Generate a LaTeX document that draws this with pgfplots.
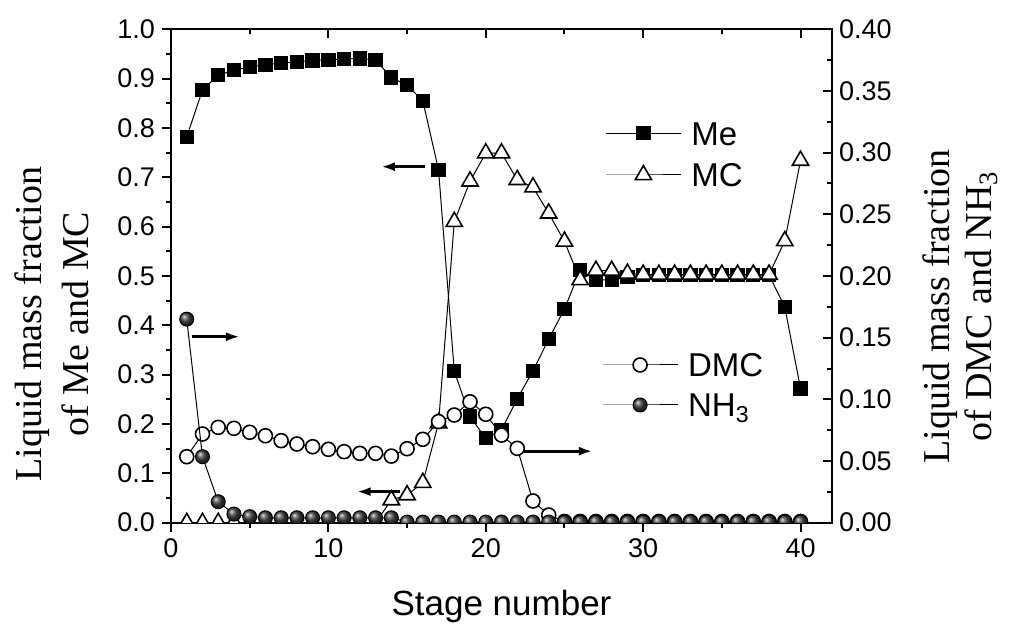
\documentclass[border=0pt]{standalone}
\usepackage{pgfplots}
\pgfplotsset{compat=1.18}
\usepackage{pgfplotstable}
\usepackage{fontspec}
\setmainfont{Liberation Sans}
\newfontfamily\timesfont{Liberation Serif}
\usetikzlibrary{arrows.meta}

\pgfplotstableread{
x me mc
1 0.782 0
2 0.877 0
3 0.907 0
4 0.917 0
5 0.924 0
6 0.928 0
7 0.932 0
8 0.934 0
9 0.937 0
10 0.938 0
11 0.940 0
12 0.941 0
13 0.938 0
14 0.902 0.046
15 0.887 0.056
16 0.855 0.081
17 0.715 0.202
18 0.307 0.610
19 0.215 0.692
20 0.171 0.749
21 0.188 0.749
22 0.251 0.695
23 0.308 0.680
24 0.372 0.627
25 0.433 0.570
26 0.512 0.492
27 0.492 0.511
28 0.492 0.511
29 0.498 0.505
30 0.502 0.503
31 0.502 0.503
32 0.502 0.503
33 0.502 0.503
34 0.502 0.503
35 0.502 0.503
36 0.502 0.503
37 0.502 0.503
38 0.502 0.503
39 0.437 0.571
40 0.272 0.734
}\leftdata

\pgfplotstableread{
x dmc nh3
1 0.0535 0.165
2 0.0719 0.0535
3 0.0773 0.017
4 0.0765 0.007
5 0.0733 0.0049
6 0.0705 0.004
7 0.0665 0.004
8 0.0638 0.004
9 0.0616 0.004
10 0.0595 0.004
11 0.0576 0.004
12 0.0562 0.004
13 0.0562 0.004
14 0.0540 0.004
15 0.0600 0.0005
16 0.0676 0.0005
17 0.0820 0.0005
18 0.0873 0.0005
19 0.0980 0.0005
20 0.0879 0.0005
21 0.0710 0.0005
22 0.0603 0.0005
23 0.0176 0.0005
24 0.0062 0.0005
25 0.001 0.0005
26 0.001 0.0005
27 0.001 0.0005
28 0.001 0.0005
29 0.001 0.0005
30 0.001 0.0005
31 0.001 0.0005
32 0.001 0.0005
33 0.001 0.0005
34 0.001 0.0005
35 0.001 0.0005
36 0.001 0.0005
37 0.001 0.0005
38 0.001 0.0005
39 0.001 0.0005
40 0.001 0.0005
}\rightdata

\newcommand\tickfont{\fontsize{13.5pt}{16pt}\selectfont}

\begin{document}
\begin{tikzpicture}
\path[use as bounding box] (-85.5pt,-51.65pt) rectangle (420pt,261.35pt);
\pgfplotsset{
  common/.style={
    width=330.5pt, height=246.7pt, scale only axis,
    at={(0pt,0pt)}, anchor=south west,
    xmin=0, xmax=42,
    xtick={0,10,20,30,40},
    minor x tick num=1,
    minor y tick num=1,
    axis line style={line width=1pt},
    every tick/.style={line width=1pt, black},
    major tick length=4.5pt, minor tick length=2.5pt,
    /pgf/number format/assume math mode=true,
    clip marker paths=true,
    legend cell align=left,
    legend style={draw=none, fill=none, inner xsep=0pt, inner ysep=0pt,
      font=\fontsize{16.5}{19}\selectfont, column sep=5pt,
      nodes={inner sep=0pt, text height=12pt, text depth=0pt}},
    legend image code/.code={\draw[mark repeat=2, mark phase=2, #1] plot coordinates {(0pt,0pt) (18.75pt,0pt) (37.5pt,0pt)};},
  }
}
\begin{axis}[common,
  ymin=0, ymax=1,
  ytick={0,0.1,0.2,0.3,0.4,0.5,0.6,0.7,0.8,0.9,1.0},
  xtick pos=left, ytick pos=left,
  tick align=outside,
  xticklabel={\hbox{\tickfont\pgfmathprintnumber{\tick}}},
  yticklabel={\hbox{\tickfont\pgfmathprintnumber[fixed,fixed zerofill,precision=1]{\tick}}},
  legend style={at={(axis description cs:0.6566,0.747)}, anchor=west, row sep=8.85pt},
  xlabel={Stage number},
  xlabel style={font=\fontsize{17.5}{20}\selectfont, at={(axis description cs:0.5,0)}, anchor=base, yshift=-46.15pt},
]
\addplot[black, line width=0.5pt, mark=square*, mark size=3.33pt, mark options={fill=black, line width=0.5pt}] table[x=x, y=me] {\leftdata};
\addlegendentry{Me}
\addplot[black, line width=0.5pt, mark=triangle*, mark size=4.7pt, mark options={fill=white, line width=0.8pt}] table[x=x, y=mc] {\leftdata};
\addlegendentry{MC}
\draw[line width=1.5pt, -{Latex[length=7pt, width=4.5pt]}] (axis cs:16.15,0.7215) -- (axis cs:13.34,0.7215);
\draw[line width=1.5pt, -{Latex[length=7pt, width=4.5pt]}] (axis cs:1.31,0.377) -- (axis cs:4.38,0.377);
\draw[line width=1.5pt, -{Latex[length=7pt, width=4.5pt]}] (axis cs:14.56,0.063) -- (axis cs:11.8,0.063);
\draw[line width=1.5pt, -{Latex[length=7pt, width=4.5pt]}] (axis cs:22.4,0.145) -- (axis cs:26.8,0.145);
\end{axis}
\begin{axis}[common,
  ymin=0, ymax=0.4,
  ytick={0,0.05,0.1,0.15,0.2,0.25,0.3,0.35,0.4},
  axis x line*=top, axis y line*=right,
  tick align=inside,
  xticklabels={},
  yticklabel={\hbox{\tickfont\pgfmathprintnumber[fixed,fixed zerofill,precision=2]{\tick}}},
  legend style={at={(axis description cs:0.6516,0.2791)}, anchor=west, row sep=8pt},
]
\addplot[black, line width=0.5pt, mark=*, mark size=3.5pt, mark options={fill=white, line width=0.8pt}] table[x=x, y=dmc] {\rightdata};
\addlegendentry{DMC}
\addplot[black, line width=0.5pt, mark=ball, mark size=3.5pt, mark options={ball color=black!75}] table[x=x, y=nh3] {\rightdata};
\addlegendentry{NH\textsubscript{3}}
\end{axis}
\node[rotate=90, align=center, font=\timesfont\fontsize{19}{23.5}\selectfont] at (-59.5pt,99.25pt) {Liquid mass fraction\\of Me and MC};
\node[rotate=90, align=center, font=\timesfont\fontsize{19}{21}\selectfont] at (394.75pt,108.1pt) {Liquid mass fraction\\of DMC and NH\textsubscript{3}};
\end{tikzpicture}
\end{document}
